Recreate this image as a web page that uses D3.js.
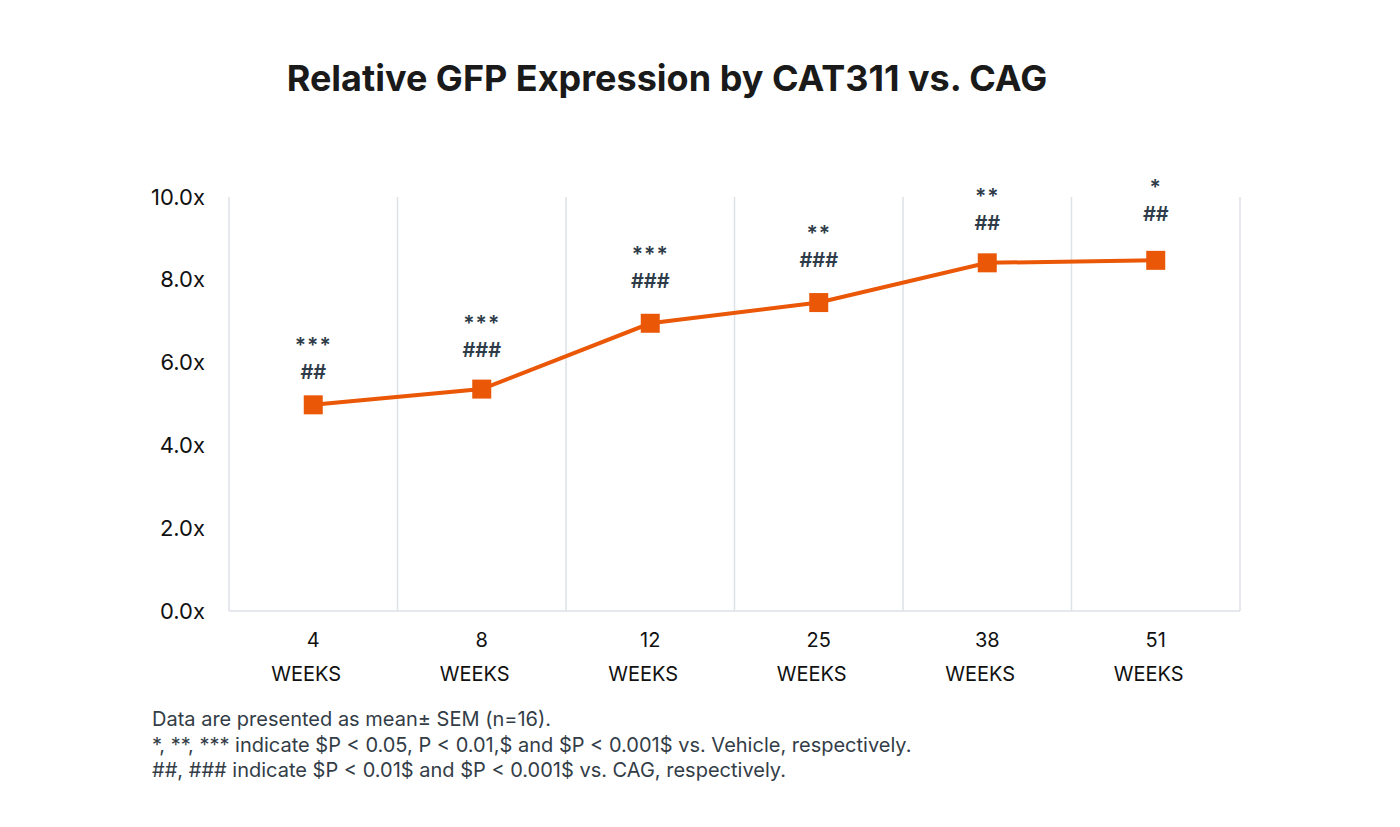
<!DOCTYPE html>
<html><head><meta charset="utf-8">
<script src="https://cdn.jsdelivr.net/npm/d3@7"></script>
<style>body{margin:0;background:#fff}svg{display:block}</style>
</head><body>
<svg id="c" width="1400" height="827"></svg>
<script>
const weeks = ["4", "8", "12", "25", "38", "51"];
const values = [4.98, 5.36, 6.95, 7.45, 8.41, 8.47];
const starLabels = ["***", "***", "***", "**", "**", "*"];
const hashLabels = ["##", "###", "###", "###", "##", "##"];
const labelLevels = [5.8, 6.33, 8.0, 8.5, 9.4, 9.62];
const yTicks = [0, 2, 4, 6, 8, 10];
const notes = [
  "Data are presented as mean\u00b1 SEM (n=16).",
  "*, **, *** indicate $P < 0.05, P < 0.01,$ and $P < 0.001$ vs. Vehicle, respectively.",
  "##, ### indicate $P < 0.01$ and $P < 0.001$ vs. CAG, respectively."
];
const titleText = "Relative GFP Expression by CAT311 vs. CAG";

const svg = d3.select("#c");
const m = {l: 229, r: 1240, t: 197, b: 611};
const x = d3.scaleBand().domain(weeks).range([m.l, m.r]).padding(0);
const y = d3.scaleLinear().domain([0, 10]).range([m.b, m.t]);
const font = "Inter, 'Noto Sans', sans-serif";

svg.append("text").attr("x", 667).attr("y", 91).attr("text-anchor", "middle")
  .attr("font-family", font).attr("font-weight", 700).attr("font-size", 36)
  .attr("fill", "#1a1a1a").text(titleText);

// vertical gridlines at band boundaries
const bounds = weeks.map(w => x(w)).concat([m.r]);
svg.append("g").selectAll("line").data(bounds).join("line")
  .attr("x1", d => d).attr("x2", d => d).attr("y1", y(10)).attr("y2", y(0))
  .attr("stroke", "#dde2e7").attr("stroke-width", 1.5);
svg.append("line").attr("x1", m.l).attr("x2", m.r).attr("y1", y(0)).attr("y2", y(0))
  .attr("stroke", "#dde2e7").attr("stroke-width", 1.5);

// y axis labels
const yAxis = d3.axisLeft(y).tickValues(yTicks).tickFormat(d => d3.format(".1f")(d) + "x").tickSize(0).tickPadding(24);
const gy = svg.append("g").attr("transform", `translate(${m.l},0)`).call(yAxis);
gy.select(".domain").remove();
gy.selectAll("text").attr("font-family", font).attr("font-size", 22).attr("fill", "#111");

// x axis labels
const xAxis = d3.axisBottom(x).tickSize(0).tickPadding(22);
const gx = svg.append("g").attr("transform", `translate(0,${m.b})`).call(xAxis);
gx.select(".domain").remove();
gx.selectAll("text").attr("font-family", font).attr("font-size", 20).attr("fill", "#111");
gx.selectAll(".tick").append("text").attr("x", -7).attr("y", 70).attr("text-anchor", "middle")
  .attr("font-family", font).attr("font-size", 20).attr("fill", "#111").text("WEEKS");

const cx = d => x(d) + x.bandwidth() / 2;
const line = d3.line().x((d, i) => cx(weeks[i])).y(d => y(d));
svg.append("path").datum(values).attr("d", line).attr("fill", "none")
  .attr("stroke", "#ea5706").attr("stroke-width", 4);
svg.append("g").selectAll("rect").data(values).join("rect")
  .attr("x", (d, i) => cx(weeks[i]) - 9.5).attr("y", d => y(d) - 9.5)
  .attr("width", 19).attr("height", 19).attr("fill", "#ea5706");

// annotations
const ann = svg.append("g").attr("font-family", font).attr("font-weight", 600).attr("fill", "#2e3b48").attr("text-anchor", "middle");
ann.selectAll("text.h").data(hashLabels).join("text").attr("class", "h")
  .attr("x", (d, i) => cx(weeks[i])).attr("y", (d, i) => y(labelLevels[i]) + 8)
  .attr("font-size", 20).text(d => d);
ann.selectAll("text.s").data(starLabels).join("text").attr("class", "s")
  .attr("x", (d, i) => cx(weeks[i])).attr("y", (d, i) => y(labelLevels[i]) - 18)
  .attr("font-size", 21).attr("letter-spacing", 1).text(d => d);

svg.append("g").selectAll("text").data(notes).join("text")
  .attr("x", 152).attr("y", (d, i) => 726 + i * 25.5)
  .attr("font-family", font).attr("font-size", 20).attr("fill", "#333d47").text(d => d);
</script>
</body></html>
